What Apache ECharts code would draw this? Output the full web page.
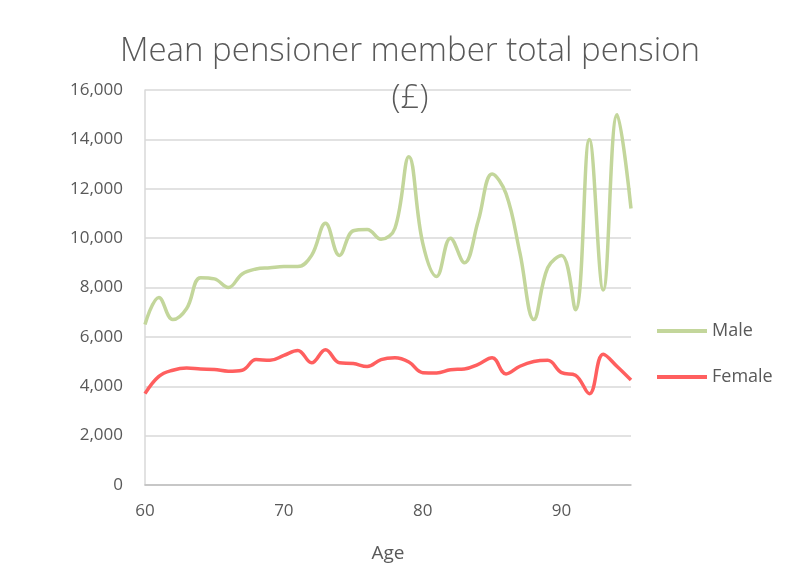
<!DOCTYPE html>
<html>
<head>
<meta charset="utf-8">
<script src="https://cdn.jsdelivr.net/npm/echarts@6/dist/echarts.min.js"></script>
<style>
  html, body { margin: 0; padding: 0; background: #fff; }
  #chart { width: 787px; height: 569px; }
</style>
</head>
<body>
<div id="chart"></div>
<script>
const ages = [60, 61, 62, 63, 64, 65, 66, 67, 68, 69, 70, 71, 72, 73, 74, 75, 76, 77,
  78, 79, 80, 81, 82, 83, 84, 85, 86, 87, 88, 89, 90, 91, 92, 93, 94, 95];
const male = [6500, 7600, 6700, 7150, 8400, 8350, 8000, 8550, 8750, 8800, 8850, 8850,
  9300, 10600, 9300, 10300, 10350, 9950, 10400, 13300, 9800, 8450, 10000, 9000,
  10700, 12600, 11800, 9400, 6700, 8800, 9300, 7100, 14000, 7900, 15000, 11200];
const female = [3700, 4400, 4650, 4740, 4700, 4680, 4610, 4650, 5080, 5050, 5250, 5450,
  4950, 5480, 4950, 4920, 4800, 5080, 5150, 4980, 4550, 4540, 4670, 4700,
  4890, 5150, 4500, 4810, 5000, 5050, 4550, 4450, 3700, 5300, 4800, 4250];

const chart = echarts.init(document.getElementById('chart'));
const textColor = '#595959';
const font = '"Open Sans", sans-serif';

const pairs = (vals) => ages.map((a, i) => [a, vals[i]]);

chart.setOption({
  animation: false,
  title: {
    text: 'Mean pensioner member total pension\n(£)',
    left: 405,
    textAlign: 'center',
    top: 23,
    textStyle: {
      color: textColor,
      fontFamily: font,
      fontWeight: 300,
      fontSize: 33,
      lineHeight: 47
    }
  },
  legend: {
    orient: 'vertical',
    left: 652,
    top: 317,
    itemWidth: 50,
    itemHeight: 4,
    itemGap: 28,
    icon: 'rect',
    textStyle: { color: textColor, fontFamily: font, fontSize: 18 },
    data: ['Male', 'Female']
  },
  grid: { left: 145, right: 156, top: 90, bottom: 84 },
  xAxis: {
    type: 'value',
    min: 60,
    max: 95,
    interval: 10,
    name: 'Age',
    nameLocation: 'middle',
    nameGap: 59,
    nameTextStyle: { color: textColor, fontFamily: font, fontSize: 19 },
    axisLine: { show: true, lineStyle: { color: '#bfbfbf', width: 1.5 } },
    axisTick: { show: false },
    splitLine: { show: false },
    axisLabel: {
      color: textColor, fontFamily: font, fontSize: 17, margin: 18,
      showMaxLabel: false
    }
  },
  yAxis: {
    type: 'value',
    min: 0,
    max: 16000,
    interval: 2000,
    axisLine: { show: true, lineStyle: { color: '#d9d9d9', width: 1.5 } },
    axisTick: { show: false },
    splitLine: { lineStyle: { color: '#d9d9d9', width: 1.5 } },
    axisLabel: {
      color: textColor, fontFamily: font, fontSize: 17, margin: 22,
      formatter: (v) => v.toLocaleString('en-GB')
    }
  },
  series: [
    {
      name: 'Male',
      type: 'line',
      data: pairs(male),
      smooth: 0.4,
      showSymbol: false,
      color: '#c3d69b',
      lineStyle: { width: 3.5, color: '#c3d69b' }
    },
    {
      name: 'Female',
      type: 'line',
      data: pairs(female),
      smooth: 0.4,
      showSymbol: false,
      color: '#ff5f5f',
      lineStyle: { width: 3.5, color: '#ff5f5f' }
    }
  ]
});
</script>
</body>
</html>
